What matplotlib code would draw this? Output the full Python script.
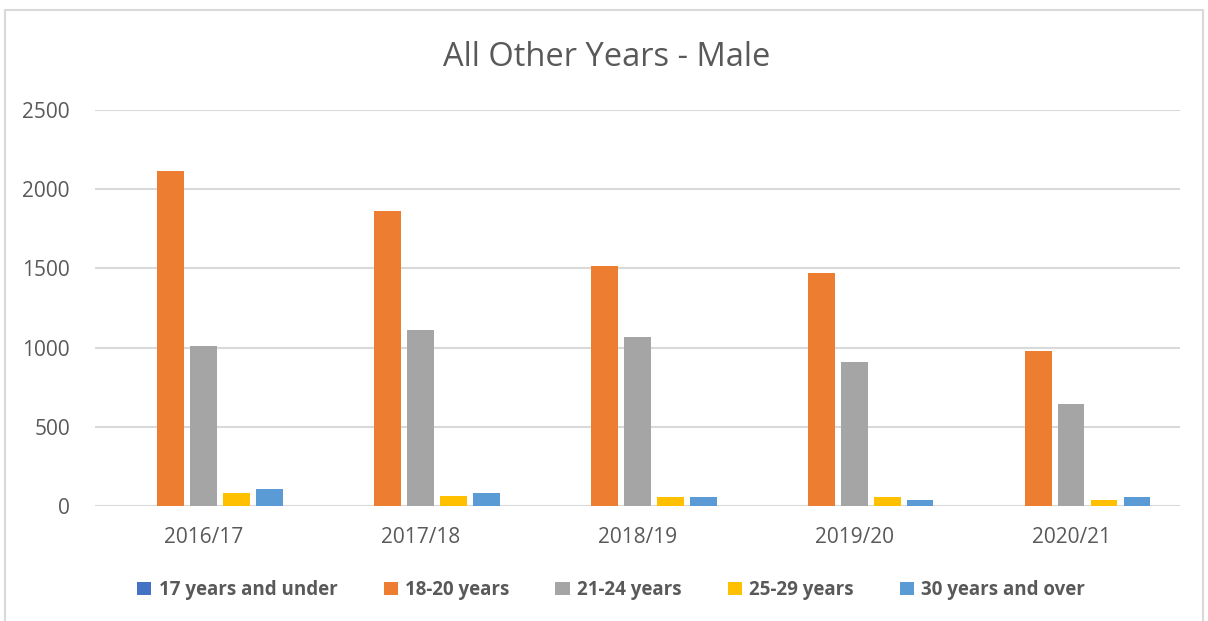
import numpy as np
import matplotlib.pyplot as plt
import matplotlib.patches as patches

# data
years = ["2016/17", "2017/18", "2018/19", "2019/20", "2020/21"]
age_groups = ["17 years and under", "18-20 years", "21-24 years", "25-29 years", "30 years and over"]
under_17 = [0, 0, 0, 0, 0]
age_18_20 = [2115, 1860, 1512, 1468, 977]
age_21_24 = [1012, 1114, 1065, 912, 647]
age_25_29 = [80, 61, 60, 60, 41]
age_30_over = [109, 84, 60, 41, 56]
colors = ["#4472C4", "#ED7D31", "#A5A5A5", "#FFC000", "#5B9BD5"]

series = [under_17, age_18_20, age_21_24, age_25_29, age_30_over]
text_col = "#595959"

plt.rcParams['font.family'] = ['Open Sans', 'DejaVu Sans']

fig = plt.figure(figsize=(12.08, 6.21), dpi=100)
ax = fig.add_axes([0.0786, 0.185, 0.898, 0.638])

# chart border like the spreadsheet frame
fig.patches.append(patches.Rectangle((5 / 1208, -0.05), 1198 / 1208, 1.05 - 10 / 621,
                                     transform=fig.transFigure, fill=False,
                                     edgecolor="#D9D9D9", linewidth=1.5))

x = np.arange(len(years))
width = 0.122
pitch = 0.152
for i, vals in enumerate(series):
    ax.bar(x + (i - 2) * pitch, vals, width, color=colors[i], label=age_groups[i], zorder=3)

ax.set_xlim(-0.5, len(years) - 0.5)
ax.set_ylim(0, 2500)
ax.set_yticks(range(0, 2501, 500))
ax.yaxis.grid(True, color="#D9D9D9", linewidth=1.5, zorder=0)
ax.set_axisbelow(True)
for s in ax.spines.values():
    s.set_visible(False)
ax.tick_params(length=0, labelsize=15, labelcolor=text_col)
ax.tick_params(axis='y', pad=18)
ax.tick_params(axis='x', pad=15)
ax.set_xticks(x)
ax.set_xticklabels(years)

fig.text(0.502, 0.908, "All Other Years - Male", ha="center", va="center",
         fontsize=23.5, color=text_col)

fig.legend(loc="center", bbox_to_anchor=(0.506, 0.05), ncol=5, frameon=False,
           prop={'weight': 'bold', 'size': 13.5}, labelcolor=text_col,
           handlelength=0.75, handleheight=0.75, handletextpad=0.4, columnspacing=2.45)

fig.savefig("out.png", dpi=100)
